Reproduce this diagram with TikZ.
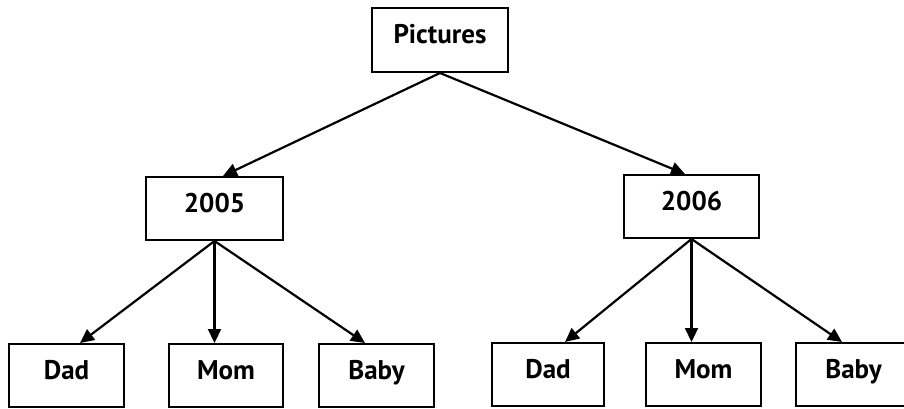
\documentclass[tikz,border=0pt]{standalone}
\usepackage{fontspec}
\setmainfont{PT Sans}
\usetikzlibrary{arrows.meta}
\begin{document}
\begin{tikzpicture}[x=1pt,y=-1pt,
  box/.style={draw, line width=2pt, inner sep=0pt, anchor=center,
    font=\bfseries\fontsize{27}{27}\selectfont,
    text height=19pt, text depth=12pt},
  conn/.style={line width=2.2pt, -{Triangle[length=14pt,width=13pt]}}]
\useasboundingbox (0,0) rectangle (904,409);
\node[box, minimum width=136pt, minimum height=64pt] (pic) at (440,40) {Pictures};
\node[box, minimum width=137pt, minimum height=63pt] (y2005) at (214.5,208.5) {2005};
\node[box, minimum width=135pt, minimum height=63pt] (y2006) at (691.5,206.5) {2006};
\node[box, minimum width=115pt, minimum height=63pt] (dad1) at (66.5,375.5) {Dad};
\node[box, minimum width=114pt, minimum height=63pt] (mom1) at (226,375.5) {Mom};
\node[box, minimum width=115pt, minimum height=63pt] (baby1) at (376.5,375.5) {Baby};
\node[box, minimum width=112pt, minimum height=63pt] (dad2) at (548,374.5) {Dad};
\node[box, minimum width=115pt, minimum height=63pt] (mom2) at (703.5,374.5) {Mom};
\node[box, minimum width=115pt, minimum height=63pt] (baby2) at (853.5,374.5) {Baby};
\draw[conn] (pic.south) -- ([xshift=8.5pt]y2005.north);
\draw[conn] (pic.south) -- ([xshift=-6.5pt]y2006.north);
\draw[conn] (y2005.south) -- ([xshift=13.5pt]dad1.north);
\draw[conn] (y2005.south) -- (mom1.north -| y2005.south);
\draw[conn] (y2005.south) -- ([xshift=-11.5pt]baby1.north);
\draw[conn] (y2006.south) -- ([xshift=17pt]dad2.north);
\draw[conn] (y2006.south) -- (mom2.north -| y2006.south);
\draw[conn] (y2006.south) -- ([xshift=-11.5pt]baby2.north);
\end{tikzpicture}
\end{document}
